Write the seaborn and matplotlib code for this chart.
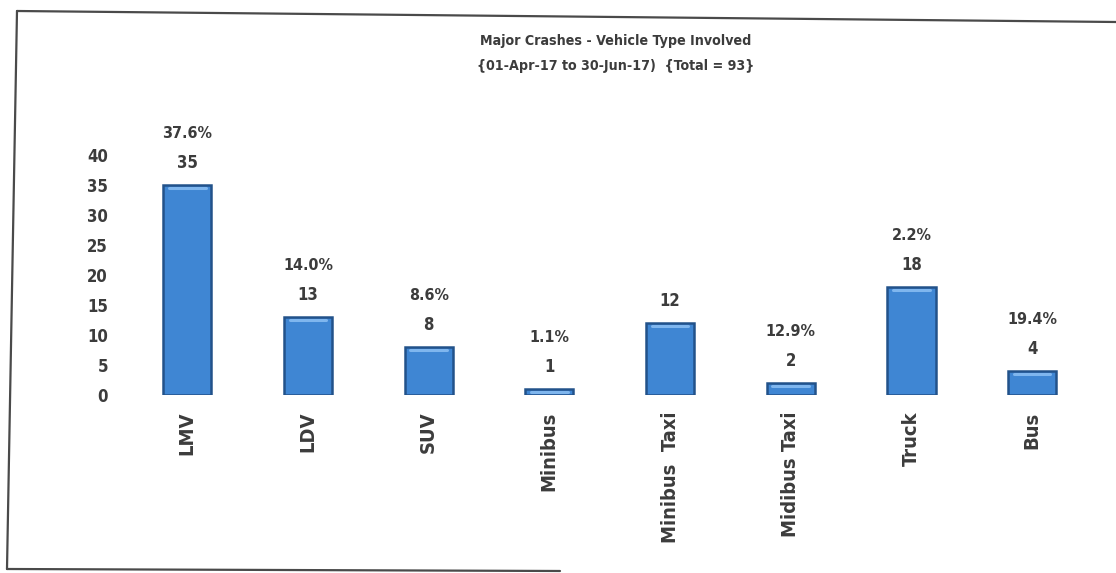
import matplotlib
matplotlib.use("Agg")
import matplotlib.pyplot as plt
from matplotlib.lines import Line2D
import seaborn as sns
import pandas as pd

# Vehicle categories and crash counts
categories = ["LMV", "LDV", "SUV", "Minibus", "Minibus  Taxi", "Midibus Taxi", "Truck", "Bus"]
counts = [35, 13, 8, 1, 12, 2, 18, 4]
pct_labels = ["37.6%", "14.0%", "8.6%", "1.1%", "", "12.9%", "2.2%", "19.4%"]
y_ticks = [0, 5, 10, 15, 20, 25, 30, 35, 40]

title_line1 = "Major Crashes - Vehicle Type Involved"
title_line2 = "{01-Apr-17 to 30-Jun-17)  {Total = 93}"

sns.set_theme(style="white")
plt.rcParams["font.family"] = ["DejaVu Sans"]
plt.rcParams["font.stretch"] = "condensed"

text_color = "#3c3c3c"
bar_color = "#3f86d3"
edge_color = "#22528a"

df = pd.DataFrame({"vehicle": categories, "count": counts})

fig = plt.figure(figsize=(11.16, 5.73), dpi=100)
ax = fig.add_axes([0.103, 0.3106, 0.878, 0.4188])

sns.barplot(data=df, x="vehicle", y="count", color=bar_color, width=0.4,
            edgecolor=edge_color, linewidth=1.8, saturation=1, ax=ax)

# light highlight along the top of each bar for a bevelled look
for patch in ax.patches:
    x0, w, h = patch.get_x(), patch.get_width(), patch.get_height()
    ax.plot([x0 + w * 0.12, x0 + w * 0.88], [h - 0.55, h - 0.55],
            color="#7fb6ee", lw=2.2, solid_capstyle="round", zorder=3)

ax.set_xlim(-0.6, 7.52)
ax.set_ylim(0, 40)
ax.set_yticks(y_ticks)
ax.set_yticklabels([str(v) for v in y_ticks], fontsize=12, fontweight="bold", color=text_color)
ax.set_xticks(range(len(categories)))
ax.set_xticklabels(categories, rotation=90, fontsize=14.5, fontweight="bold",
                   color=text_color, va="top", ha="center")
ax.tick_params(axis="both", length=0, pad=5)
ax.tick_params(axis="x", pad=12)
ax.set_xlabel("")
ax.set_ylabel("")
for side in ax.spines.values():
    side.set_visible(False)
ax.grid(False)

# count and percentage labels above bars
for i, (v, p) in enumerate(zip(counts, pct_labels)):
    ax.annotate(str(v), (i, v), xytext=(0, 22), textcoords="offset pixels",
                ha="center", va="center", fontsize=12, fontweight="bold",
                color=text_color, annotation_clip=False)
    if p:
        ax.annotate(p, (i, v), xytext=(0, 52), textcoords="offset pixels",
                    ha="center", va="center", fontsize=11.5, fontweight="bold",
                    color=text_color, annotation_clip=False)

fig.text(616 / 1116, 1 - 41 / 573, title_line1, ha="center", va="center",
         fontsize=10.2, fontweight="bold", color=text_color)
fig.text(616 / 1116, 1 - 66 / 573, title_line2, ha="center", va="center",
         fontsize=10.2, fontweight="bold", color=text_color)

# chart border
W, H = 1116, 573
def fig_line(x0, y0, x1, y1):
    fig.add_artist(Line2D([x0 / W, x1 / W], [1 - y0 / H, 1 - y1 / H],
                          color="#4a4a4a", lw=1.6, transform=fig.transFigure))

fig_line(17, 11, 1116, 22)
fig_line(17, 11, 7, 569)
fig_line(7, 569, 560, 571)

fig.savefig("out.png", dpi=100, facecolor="white")
